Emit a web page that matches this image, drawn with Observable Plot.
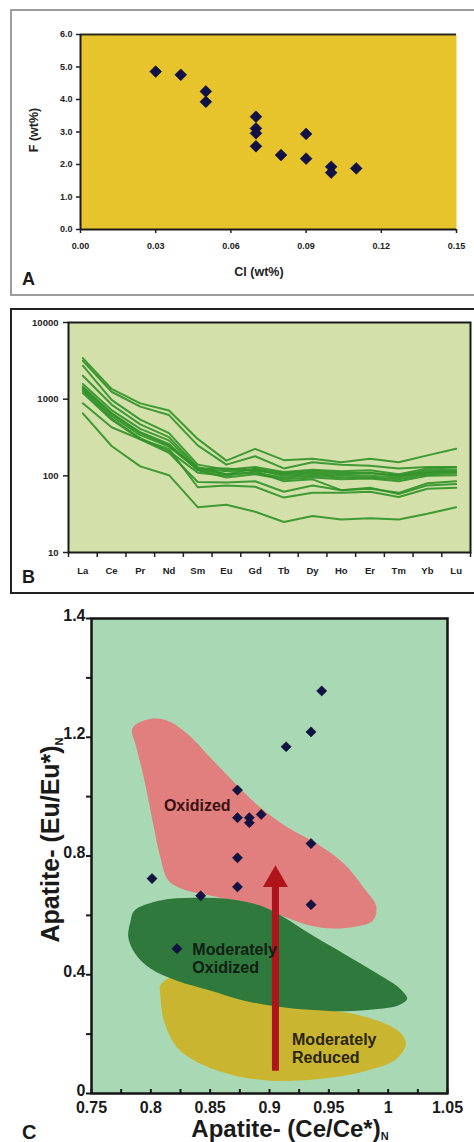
<!DOCTYPE html>
<html><head><meta charset="utf-8">
<script src="https://cdn.jsdelivr.net/npm/d3@7"></script>
<script src="https://cdn.jsdelivr.net/npm/@observablehq/plot@0.6"></script>
<style>
body{margin:0;background:#fff;}
#root{position:relative;width:474px;height:1142px;overflow:hidden;font-family:"Liberation Sans",Arial,sans-serif;}
.box{position:absolute;box-sizing:border-box;}
.lbl{position:absolute;font-weight:bold;color:#1a1a1a;line-height:1;}
svg.p{position:absolute;left:0;}
</style></head><body><div id="root"></div>
<script>
// ---------- Panel A: F vs Cl ----------
const clValues = [0.03,0.04,0.05,0.05,0.07,0.07,0.07,0.07,0.08,0.09,0.09,0.10,0.10,0.11];
const fValues  = [4.86,4.76,4.25,3.93,3.47,3.11,2.96,2.56,2.29,2.94,2.18,1.93,1.75,1.88];
const aXTicks = [0,0.03,0.06,0.09,0.12,0.15];
const aXTickLabels = ["0.00","0.03","0.06","0.09","0.12","0.15"];
const aYTicks = [0,1,2,3,4,5,6];
const aYTickLabels = ["0.0","1.0","2.0","3.0","4.0","5.0","6.0"];

// ---------- Panel B: chondrite-normalised REE ----------
const elements = ["La","Ce","Pr","Nd","Sm","Eu","Gd","Tb","Dy","Ho","Er","Tm","Yb","Lu"];
const sample01 = [3435,1358,882,712,303,158,225,160,167,150,167,150,185,225];
const sample02 = [3170,1250,800,620,250,140,180,125,150,140,135,125,130,130];
const sample03 = [2730,980,540,360,140,120,130,112,120,115,118,105,125,128];
const sample04 = [2020,850,470,320,130,105,125,108,115,110,110,100,118,120];
const sample05 = [1577,720,410,290,125,115,120,100,105,100,100,95,110,112];
const sample06 = [1455,660,370,260,118,95,105,90,95,90,92,85,100,102];
const sample07 = [1400,640,360,250,125,125,118,105,110,105,108,100,112,115];
const sample08 = [1358,600,340,240,120,105,110,95,100,95,95,90,105,108];
const sample09 = [1290,560,310,210,110,100,115,85,90,65,68,60,80,85];
const sample10 = [1200,540,300,200,83,82,85,62,75,65,70,58,75,78];
const sample11 = [882,430,300,225,71,75,72,52,60,60,62,53,68,70];
const sample12 = [654,245,133,102,39,42,34,25,30,27,28,27,32,39];
const bYTicks = [10,100,1000,10000];

// ---------- Panel C: Eu/Eu* vs Ce/Ce* ----------
const ceAnomaly = [0.944,0.935,0.914,0.873,0.873,0.883,0.883,0.893,0.935,0.873,0.801,0.873,0.842,0.935,0.822];
const euAnomaly = [1.356,1.218,1.168,1.022,0.929,0.929,0.912,0.940,0.842,0.794,0.724,0.696,0.666,0.636,0.488];
const oxidizedX = [0.786,0.800,0.814,0.831,0.850,0.873,0.892,0.915,0.940,0.963,0.979,0.990,0.987,0.972,0.954,0.934,0.906,0.878,0.850,0.831,0.815,0.808,0.802,0.794,0.787,0.784];
const oxidizedY = [1.239,1.262,1.256,1.211,1.132,1.037,0.964,0.897,0.841,0.773,0.695,0.630,0.582,0.562,0.556,0.566,0.605,0.639,0.667,0.683,0.717,0.796,0.908,1.065,1.177,1.222];
const modOxX = [0.786,0.808,0.836,0.864,0.892,0.912,0.934,0.963,0.991,1.010,1.016,1.008,0.991,0.963,0.934,0.906,0.878,0.850,0.822,0.800,0.787,0.781,0.783];
const modOxY = [0.616,0.650,0.659,0.656,0.633,0.594,0.538,0.470,0.403,0.353,0.319,0.296,0.285,0.277,0.282,0.293,0.313,0.347,0.380,0.420,0.470,0.526,0.582];
const modRedX = [0.808,0.817,0.842,0.876,0.909,0.943,0.982,1.008,1.015,1.005,0.982,0.954,0.926,0.898,0.870,0.842,0.822,0.811,0.808];
const modRedY = [0.364,0.391,0.370,0.340,0.313,0.286,0.257,0.212,0.167,0.111,0.077,0.055,0.044,0.044,0.061,0.100,0.156,0.246,0.336];
const regionLabels = ["Oxidized","Moderately\nOxidized","Moderately\nReduced"];
const regionLabelX = [0.811,0.835,0.919];
const regionLabelY = [0.972,0.456,0.153];
const regionLabelColors = ["#3a1010","#102014","#2a2410"];
const arrowX = [0.905];
const arrowTail = [0.077];
const arrowNeck = [0.70];
const arrowHeadCenter = [0.72];
const cXTicks = [0.75,0.8,0.85,0.9,0.95,1,1.05];
const cXTickLabels = ["0.75","0.8","0.85","0.9","0.95","1","1.05"];
const cXMinorTicks = [0.75,0.775,0.8,0.825,0.85,0.875,0.9,0.925,0.95,0.975,1,1.025,1.05];
const cYTicks = [0,0.4,0.8,1.2,1.6];
const cYTickLabels = ["0","0.4","0.8","1.2","1.4"];
const cYMinorTicks = [0.2,0.6,1.0,1.4];

const FONT = "'Liberation Sans', Arial, sans-serif";
const root = document.getElementById("root");

function addBox(left, top, width, height, color){
  const d = document.createElement("div");
  d.className = "box";
  Object.assign(d.style,{left:left+"px",top:top+"px",width:width+"px",height:height+"px",border:"2px solid "+color});
  root.appendChild(d);
}
function addLetter(txt, left, top, size){
  const d = document.createElement("div");
  d.className = "lbl"; d.textContent = txt;
  Object.assign(d.style,{left:left+"px",top:top+"px",fontSize:size+"px"});
  root.appendChild(d);
}
function place(svg, top){
  svg.classList.add("p");
  svg.style.top = top + "px";
  root.appendChild(svg);
  return d3.select(svg);
}
const lookup = (ticks, labels) => d => labels[ticks.indexOf(d)];

// ---------- A ----------
addBox(10, 9, 480, 287, "#9c9c9c");
const ptsA = clValues.map((x, i) => ({cl: x, f: fValues[i]}));
const plotA = Plot.plot({
  width: 474, height: 295,
  marginTop: 34, marginBottom: 66, marginLeft: 80, marginRight: 18,
  style: {background: "transparent", fontFamily: FONT, fontSize: "9px", fontWeight: "bold", color: "#222", overflow: "visible"},
  x: {domain: [0, 0.15]},
  y: {domain: [0, 6]},
  marks: [
    Plot.frame({fill: "#e8c42c"}),
    Plot.ruleY([6], {stroke: "#2a2a1a", strokeWidth: 2}),
    Plot.ruleY([0], {stroke: "#1a1a1a", strokeWidth: 2}),
    Plot.ruleX([0], {stroke: "#1a1a1a", strokeWidth: 2}),
    Plot.axisX({ticks: aXTicks, tickFormat: lookup(aXTicks, aXTickLabels), tickSize: 4, tickPadding: 9, label: null, strokeWidth: 1.5}),
    Plot.axisY({ticks: aYTicks, tickFormat: lookup(aYTicks, aYTickLabels), tickSize: 4, tickPadding: 4, label: null, strokeWidth: 1.5}),
    Plot.dot(ptsA, {x: "cl", y: "f", symbol: "diamond2", r: 5.3, fill: "#0f1147", stroke: "#080a30", strokeWidth: 0.6})
  ]
});
const sA = place(plotA, 0);
sA.append("text").attr("x", 259).attr("y", 276).attr("text-anchor", "middle")
  .attr("font-size", 12.5).attr("font-weight", "bold").attr("fill", "#222").text("Cl (wt%)");
sA.append("text").attr("transform", "translate(38,130) rotate(-90)").attr("text-anchor", "middle")
  .attr("font-size", 12.5).attr("font-weight", "bold").attr("fill", "#222").text("F (wt%)");
addLetter("A", 22, 270, 18);

// ---------- B ----------
addBox(10, 308, 480, 286, "#222");
const reeSeries = [sample01,sample02,sample03,sample04,sample05,sample06,sample07,sample08,sample09,sample10,sample11,sample12];
const reeRows = reeSeries.flatMap((vals, s) => vals.map((v, i) => ({s, i, v})));
const bBoundaries = d3.range(elements.length + 1).map(i => i - 0.5);
const plotB = Plot.plot({
  width: 474, height: 300,
  marginTop: 22, marginBottom: 48, marginLeft: 68, marginRight: 4,
  style: {background: "transparent", fontFamily: FONT, fontSize: "9.5px", fontWeight: "bold", color: "#222", overflow: "visible"},
  x: {domain: [-0.5, elements.length - 0.5]},
  y: {type: "log", domain: [10, 10000]},
  marks: [
    Plot.frame({fill: "#d4e0a9"}),
    Plot.line(reeRows, {x: "i", y: "v", z: "s", stroke: "#32922a", strokeWidth: 2, strokeOpacity: 0.92}),
    Plot.axisX({ticks: bBoundaries, tickFormat: () => "", tickSize: 5, label: null, strokeWidth: 1.5}),
    Plot.axisX({ticks: d3.range(elements.length), tickFormat: i => elements[i], tickSize: 0, tickPadding: 15, label: null}),
    Plot.axisY({ticks: bYTicks, tickFormat: d => String(d), tickSize: 5, tickPadding: 5, label: null, strokeWidth: 1.5}),
    Plot.frame({stroke: "#1a1a1a", strokeWidth: 2})
  ]
});
place(plotB, 300);
addLetter("B", 22, 568, 18);

// ---------- C ----------
const ptsC = ceAnomaly.map((x, i) => ({ce: x, eu: euAnomaly[i]}));
const poly = (xs, ys) => xs.map((x, i) => ({x, y: ys[i]}));
const labelsC = regionLabels.map((t, i) => ({t, x: regionLabelX[i], y: regionLabelY[i], c: regionLabelColors[i]}));
const arrowData = arrowX.map((x, i) => ({x, y1: arrowTail[i], y2: arrowNeck[i], yh: arrowHeadCenter[i]}));
const plotC = Plot.plot({
  width: 474, height: 542,
  marginTop: 18, marginBottom: 49, marginLeft: 91, marginRight: 27,
  style: {background: "transparent", fontFamily: FONT, fontSize: "16px", fontWeight: "bold", color: "#1a1a1a", overflow: "visible"},
  x: {domain: [0.75, 1.05]},
  y: {domain: [0, 1.6]},
  marks: [
    Plot.frame({fill: "#a9d8b4"}),
    Plot.line(poly(modRedX, modRedY), {x: "x", y: "y", curve: "catmull-rom-closed", fill: "#c9b52f", stroke: "none"}),
    Plot.line(poly(oxidizedX, oxidizedY), {x: "x", y: "y", curve: "catmull-rom-closed", fill: "#e07f7e", stroke: "none"}),
    Plot.line(poly(modOxX, modOxY), {x: "x", y: "y", curve: "catmull-rom-closed", fill: "#2e793b", stroke: "none"}),
    Plot.link(arrowData, {x1: "x", x2: "x", y1: "y1", y2: "y2", stroke: "#b0141b", strokeWidth: 7}),
    Plot.dot(arrowData, {x: "x", y: "yh", symbol: "triangle", r: 9.3, fill: "#b0141b", stroke: "none"}),
    Plot.text(labelsC, {x: "x", y: "y", text: "t", fill: "c", textAnchor: "start", fontSize: 16, fontWeight: "bold", lineHeight: 1.15}),
    Plot.dot(ptsC, {x: "ce", y: "eu", symbol: "diamond2", r: 4.6, fill: "#121244", stroke: "#0a0a2a", strokeWidth: 0.5}),
    Plot.axisX({ticks: cXMinorTicks, tickFormat: () => "", tickSize: -4, label: null, strokeWidth: 2}),
    Plot.axisX({ticks: cXTicks, tickFormat: lookup(cXTicks, cXTickLabels), tickSize: 0, tickPadding: 8, label: null}),
    Plot.axisY({ticks: cYMinorTicks.concat(cYTicks), tickFormat: () => "", tickSize: 5, label: null, strokeWidth: 2}),
    Plot.axisY({ticks: cYTicks, tickFormat: lookup(cYTicks, cYTickLabels), tickSize: 0, tickPadding: 6, dy: -3, label: null}),
    Plot.frame({stroke: "#141414", strokeWidth: 2.5})
  ]
});
const sC = place(plotC, 600);
const tx = sC.append("text").attr("x", 290).attr("y", 537).attr("text-anchor", "middle")
  .attr("font-size", 24).attr("font-weight", "bold").attr("fill", "#1a1a1a");
tx.append("tspan").text("Apatite- (Ce/Ce*)");
tx.append("tspan").attr("font-size", 11).attr("dy", 3).text("N");
const ty = sC.append("text").attr("transform", "translate(59,240) rotate(-90)").attr("text-anchor", "middle")
  .attr("font-size", 25).attr("font-weight", "bold").attr("fill", "#1a1a1a");
ty.append("tspan").text("Apatite- (Eu/Eu*)");
ty.append("tspan").attr("font-size", 11).attr("dy", 4).text("N");
addLetter("C", 22, 1122, 20);
</script></body></html>
